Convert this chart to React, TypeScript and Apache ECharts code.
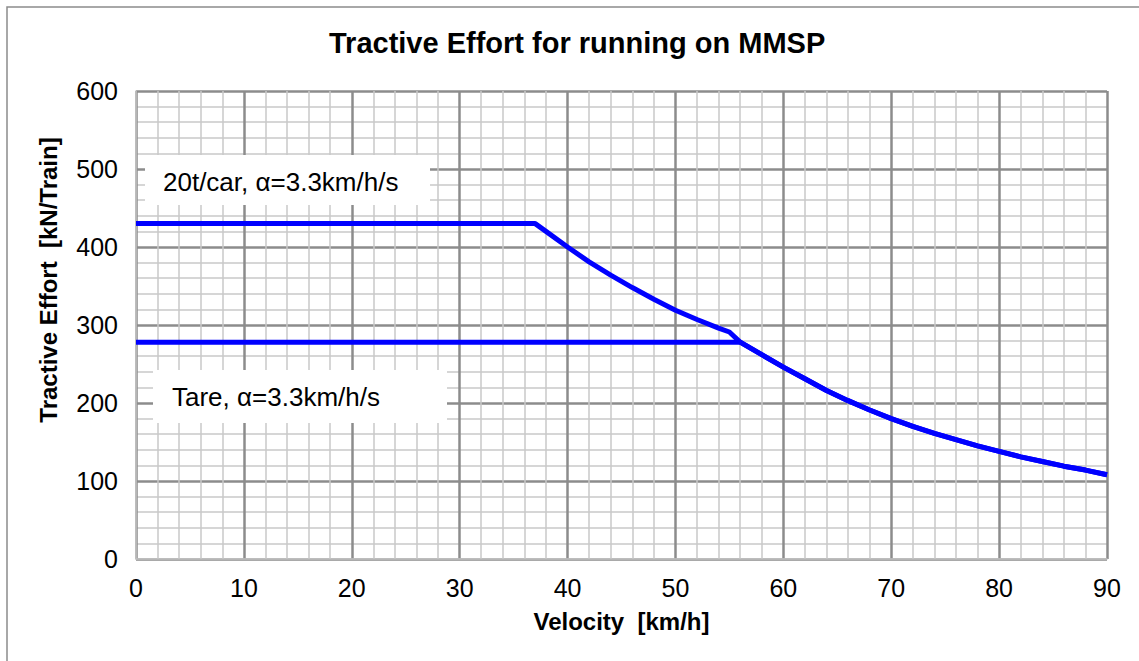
import React, { useEffect, useRef } from "react";
import * as echarts from "echarts";

const titleText = "Tractive Effort for running on MMSP";
const xAxisName = "Velocity  [km/h]";
const yAxisName = "Tractive Effort  [kN/Train]";
const loadedLabel = "20t/car, α=3.3km/h/s";
const tareLabel = "Tare, α=3.3km/h/s";

// 20t/car constant-force + constant-power part
const loadedV = [0, 37, 38, 40, 42, 44, 46, 48, 50, 52, 54, 55];
const loadedTE = [430, 430, 420, 400, 381, 364, 348, 333, 319, 307, 296, 291];
// Tare constant-force part
const tareV = [0, 56];
const tareTE = [278, 278];
// shared tail above ~56 km/h
const tailV = [56, 58, 60, 62, 64, 66, 68, 70, 72, 74, 76, 78, 80, 82, 84, 86, 88, 90];
const tailTE = [278, 262, 246, 231, 216, 203, 191, 180, 170, 161, 153, 145, 138, 131, 125, 119, 114, 108];

const xMin = 0, xMax = 90, xStep = 10;
const yMin = 0, yMax = 600, yStep = 100;

const pairs = (v: number[], f: number[]) => v.map((x, i) => [x, f[i]]);

export default function App() {
  const ref = useRef<HTMLDivElement>(null);
  useEffect(() => {
    document.body.style.margin = "0";
    if (!ref.current) return;
    const chart = echarts.init(ref.current, null, { renderer: "svg" });
    const font = "'Liberation Sans', Arial, sans-serif";
    const loaded = pairs(loadedV, loadedTE).concat(pairs(tailV, tailTE));
    const tare = pairs(tareV, tareTE).concat(pairs(tailV, tailTE).slice(1));
    chart.setOption({
      animation: false,
      backgroundColor: "#ffffff",
      title: {
        text: titleText,
        left: 324,
        top: 23,
        textStyle: { fontFamily: font, fontSize: 29, fontWeight: "bold", color: "#000" },
      },
      grid: { left: 136, right: 32, top: 91, bottom: 102, containLabel: false },
      xAxis: {
        type: "value",
        min: xMin,
        max: xMax,
        interval: xStep,
        name: xAxisName,
        nameLocation: "middle",
        nameGap: 50,
        nameTextStyle: { fontFamily: font, fontSize: 24, fontWeight: "bold", color: "#000" },
        axisLine: { show: true, lineStyle: { color: "#c4c4c4", width: 1.5 } },
        axisTick: { show: false },
        axisLabel: { fontFamily: font, fontSize: 25, color: "#000", margin: 16 },
        splitLine: { show: true, lineStyle: { color: "#8c8c8c", width: 2.5 } },
        minorTick: { show: false, splitNumber: 5 },
        minorSplitLine: { show: true, lineStyle: { color: "#c8c8c8", width: 1.5 } },
      },
      yAxis: {
        type: "value",
        min: yMin,
        max: yMax,
        interval: yStep,
        axisLine: { show: true, lineStyle: { color: "#c4c4c4", width: 1.5 } },
        axisTick: { show: false },
        axisLabel: { fontFamily: font, fontSize: 25, color: "#000", margin: 18 },
        splitLine: { show: true, lineStyle: { color: "#8c8c8c", width: 2.5 } },
        minorTick: { show: false, splitNumber: 5 },
        minorSplitLine: { show: true, lineStyle: { color: "#c8c8c8", width: 1.5 } },
      },
      series: [
        {
          name: loadedLabel,
          type: "line",
          data: loaded,
          showSymbol: false,
          lineStyle: { color: "#0000ff", width: 5, join: "round" },
          z: 3,
        },
        {
          name: tareLabel,
          type: "line",
          data: tare,
          showSymbol: false,
          lineStyle: { color: "#0000ff", width: 5, join: "round" },
          z: 3,
        },
      ],
      graphic: [
        {
          type: "rect",
          shape: { x: 7, y: 7, width: 1140, height: 660 },
          style: { fill: "none", stroke: "#8c8c8c", lineWidth: 1.5 },
          silent: true,
          z: 1,
        },
        {
          type: "rect",
          shape: { x: 145, y: 155, width: 285, height: 50 },
          style: { fill: "#ffffff" },
          z: 1,
        },
        {
          type: "text",
          x: 163,
          y: 182,
          style: { text: loadedLabel, font: `26px ${font}`, fill: "#000", textVerticalAlign: "middle" },
          z: 2,
        },
        {
          type: "rect",
          shape: { x: 153, y: 370, width: 294, height: 53 },
          style: { fill: "#ffffff" },
          z: 1,
        },
        {
          type: "text",
          x: 172,
          y: 397,
          style: { text: tareLabel, font: `26px ${font}`, fill: "#000", textVerticalAlign: "middle" },
          z: 2,
        },
        {
          type: "text",
          x: 48,
          y: 280,
          rotation: Math.PI / 2,
          style: {
            text: yAxisName,
            font: `bold 24px ${font}`,
            fill: "#000",
            textAlign: "center",
            textVerticalAlign: "middle",
          },
          z: 2,
        },
      ],
    });
    return () => chart.dispose();
  }, []);
  return <div ref={ref} style={{ width: 1139, height: 661 }} />;
}
